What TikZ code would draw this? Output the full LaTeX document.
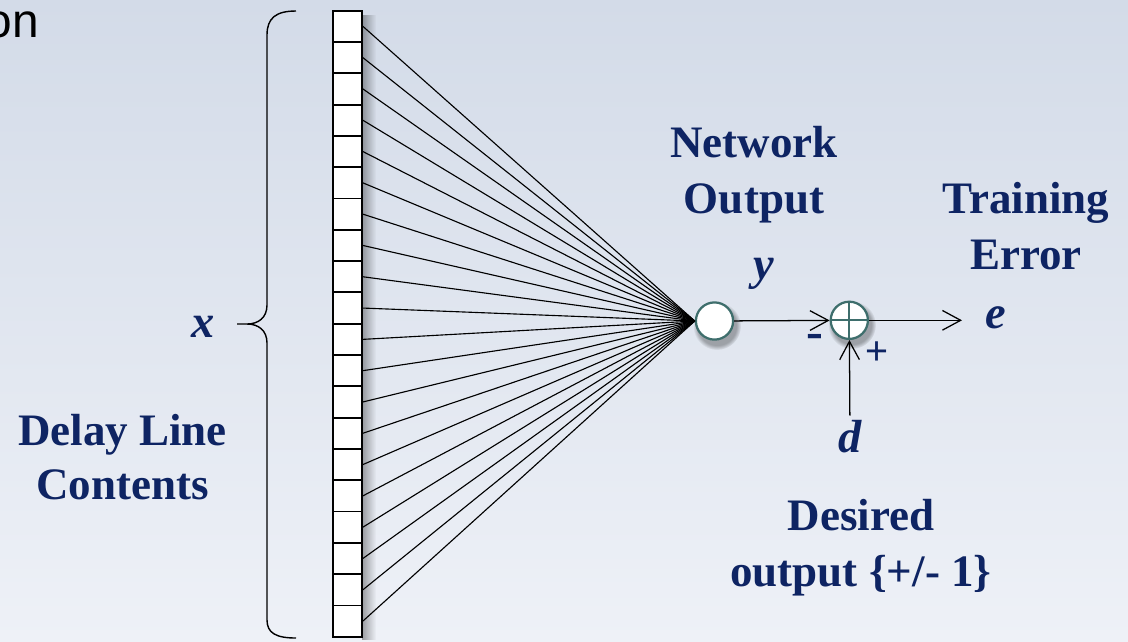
\documentclass[tikz,border=0pt]{standalone}
\usepackage{fontspec}
\setmainfont{Liberation Serif}
\newfontfamily\arialfont{Liberation Sans}
\usetikzlibrary{arrows.meta,fadings}

\definecolor{navy}{RGB}{14,36,99}
\definecolor{ringteal}{RGB}{62,110,108}
\definecolor{bgtop}{RGB}{211,219,232}
\definecolor{bgbottom}{RGB}{238,241,247}

\begin{document}
\begin{tikzpicture}[x=0.025cm,y=-0.025cm]
	\tikzstyle{cell}=[draw,fill=white,line width=1.3pt,minimum width=0.725cm,minimum height=0.7825cm,inner sep=0pt]
	\tikzstyle{unit}=[circle,draw=ringteal,fill=white,line width=1.6pt,minimum size=0.93cm,inner sep=0pt]
	\tikzstyle{lbl}=[text=navy,font=\bfseries\fontsize{32}{40}\selectfont,align=center]
	\tikzstyle{var}=[text=navy,font=\bfseries\itshape\fontsize{33}{40}\selectfont]
	\tikzstyle{arr}=[-{Straight Barb[length=13pt,width=14pt]},line width=0.9pt]
	\tikzstyle{soft}=[black,opacity=0.3,path fading=circle with fuzzy edge 20 percent]
	% background
	\shade[top color=bgtop,bottom color=bgbottom] (0,0) rectangle (1128,641);
	\useasboundingbox (0,0) rectangle (1128,641);
	\node[anchor=base east,font=\arialfont\fontsize{34}{40}\selectfont] (cut) at (44,37) {on};
	% shadows
	\fill[black,opacity=0.35,path fading=east] (362,14) rectangle (376,640);
	\fill[soft] (717,326) circle (24);
	\fill[soft] (852,325) circle (24);
	% delay line
	\foreach \i in {0,...,19} {
		\node[cell] (c\i) at (347.5,{26.35+31.3*\i}) {};
	}
	\node[unit] (out) at (714.5,321) {};
	\node[unit] (sum) at (849.3,320.3) {};
	\draw[ringteal,line width=1.6pt] (sum.north) -- (sum.south) (sum.west) -- (sum.east);
	\foreach \i in {0,...,19} {
		\draw[line width=0.8pt] (c\i.east) -- (out.west);
	}
	% brace
	\draw[line width=1pt] (296,11) .. controls (276,11) and (267,18) .. (267,35) -- (267,305)
		.. controls (267,318) and (258,324) .. (247,324) -- (237,324) -- (247,324)
		.. controls (258,324) and (267,330) .. (267,343) -- (267,620)
		.. controls (267,633) and (276,638) .. (296,638);
	% labels
	\node[var] (x) at (203,327) {x};
	\node[var] (y) at (764,274) {y};
	\node[var] (e) at (996,318) {e};
	\node[var] (d) at (850,437) {d};
	\coordinate (etip) at (962,320.3);
	\node[lbl] (netout) at (754,175) {Network\\Output};
	\node[lbl] (trainerr) at (1026,226) {Training\\Error};
	\node[lbl,font=\bfseries\fontsize{32}{38.4}\selectfont] (delay) at (122.5,457) {Delay Line\\Contents};
	\node[lbl] (desired) at (861,548) {Desired\\output \{+/- 1\}};
	\node[text=navy,font=\bfseries\fontsize{36}{36}\selectfont] (minus) at (815,341) {-};
	\node[text=navy,font=\arialfont\fontsize{28}{30}\selectfont] (plus) at (877,353) {+};
	% connectors
	\draw[arr] (out) -- (sum);
	\draw[arr] (sum) -- (etip);
	\draw[arr] (d) -- (sum);
\end{tikzpicture}
\end{document}
